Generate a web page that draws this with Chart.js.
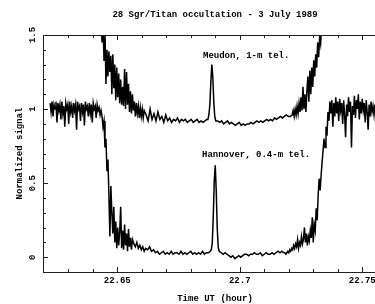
<!DOCTYPE html>
<html>
<head>
    <title>28 Sgr/Titan occultation</title>
    <script src="https://cdn.jsdelivr.net/npm/chart.js"></script>
    <style>
        body { margin: 0; background: #fff; }
    </style>
</head>
<body>
    <canvas id="myChart" width="375" height="304"></canvas>
    <script>
        // time in UT hours, signal normalised to the unocculted star
        var hannoverTime = [
            22.6226,22.6230,22.6234,22.6238,22.6242,22.6246,22.6250,22.6254,22.6258,22.6262,
            22.6266,22.6270,22.6274,22.6278,22.6282,22.6286,22.6290,22.6294,22.6298,22.6302,
            22.6306,22.6310,22.6314,22.6318,22.6322,22.6326,22.6330,22.6334,22.6338,22.6342,
            22.6346,22.6350,22.6354,22.6358,22.6362,22.6366,22.6370,22.6374,22.6378,22.6382,
            22.6386,22.6390,22.6394,22.6398,22.6402,22.6406,22.6410,22.6414,22.6418,22.6422,
            22.6426,22.6430,
            22.6434,22.6438,22.6442,22.6446,22.6450,22.6454,22.6458,22.6462,22.6466,22.6470,
            22.6474,22.6478,22.6482,22.6486,22.6490,22.6494,22.6498,22.6502,22.6506,22.6510,
            22.6514,22.6518,22.6522,22.6526,22.6530,22.6534,22.6538,22.6542,22.6546,22.6550,
            22.6554,22.6558,22.6562,
            22.6568,22.6574,22.6580,22.6586,22.6592,22.6598,22.6604,22.6610,22.6616,
            22.6624,22.6632,22.6640,22.6648,22.6656,22.6664,22.6672,22.6680,22.6688,22.6696,
            22.6704,22.6712,22.6720,22.6728,22.6736,22.6744,22.6752,22.6760,22.6768,22.6776,
            22.6784,22.6792,22.6800,22.6808,22.6816,22.6824,22.6832,22.6840,22.6848,22.6856,
            22.6864,22.6872,22.6880,
            22.6884,22.6888,22.6892,22.6896,22.6900,22.6904,22.6908,22.6912,22.6916,
            22.6924,22.6932,22.6940,22.6948,22.6956,22.6964,22.6972,22.6980,22.6988,22.6996,
            22.7004,22.7012,22.7020,22.7028,22.7036,22.7044,22.7052,22.7060,22.7068,22.7076,
            22.7084,22.7092,22.7100,22.7108,22.7116,22.7124,22.7132,22.7140,22.7148,22.7156,
            22.7164,22.7172,22.7180,
            22.7184,22.7188,22.7192,22.7196,22.7200,22.7204,22.7208,22.7212,22.7216,22.7220,
            22.7224,22.7228,22.7232,22.7236,22.7240,22.7244,22.7248,22.7252,22.7256,22.7260,
            22.7264,22.7268,22.7272,22.7276,22.7280,22.7284,22.7288,22.7292,22.7296,22.7300,
            22.7304,22.7308,22.7312,22.7316,22.7320,22.7324,22.7328,22.7332,22.7336,22.7340,
            22.7344,22.7348,22.7352,22.7356,22.7360,22.7364,22.7368,
            22.7372,22.7376,22.7380,22.7384,22.7388,22.7392,22.7396,22.7400,22.7404,22.7408,
            22.7412,22.7416,22.7420,22.7424,22.7428,22.7432,22.7436,22.7440,22.7444,22.7448,
            22.7452,22.7456,22.7460,22.7464,22.7468,22.7472,22.7476,22.7480,22.7484,22.7488,
            22.7492,22.7496,22.7500,22.7504,22.7508,22.7512,22.7516,22.7520,22.7524,22.7528,
            22.7532,22.7536,22.7540,22.7544,22.7548,22.7552
        ];
        var hannoverSignal = [
            1.04,0.98,1.05,0.95,1.03,1.00,1.05,0.91,1.04,0.99,
            1.03,0.93,1.05,0.97,1.02,0.88,1.04,1.00,1.03,0.90,
            1.05,0.98,1.02,0.94,1.04,0.99,1.03,0.86,1.05,1.00,
            1.02,0.92,1.04,0.98,1.03,0.89,1.05,1.00,1.02,0.95,
            1.04,0.97,1.03,0.91,1.04,1.00,1.02,0.94,1.03,0.99,
            1.01,0.96,
            0.99,0.95,0.88,0.92,0.74,0.80,0.58,0.66,0.42,0.14,
            0.48,0.30,0.16,0.34,0.10,0.24,0.06,0.20,0.08,0.17,
            0.34,0.06,0.18,0.05,0.22,0.08,0.16,0.04,0.19,0.07,
            0.13,0.05,0.12,
            0.09,0.07,0.10,0.06,0.08,0.05,0.07,0.04,0.06,
            0.05,0.07,0.04,0.05,0.03,0.04,0.02,0.03,0.04,0.02,
            0.03,0.02,0.04,0.02,0.03,0.03,0.02,0.04,0.02,0.03,
            0.02,0.03,0.04,0.02,0.03,0.02,0.03,0.02,0.04,0.02,
            0.03,0.03,0.04,
            0.05,0.10,0.28,0.52,0.62,0.45,0.20,0.07,0.04,
            0.03,0.02,0.03,0.02,0.01,0.00,0.01,-0.01,0.00,0.01,
            0.00,0.01,0.02,0.02,0.01,0.02,0.02,0.03,0.02,0.02,
            0.03,0.01,0.02,0.03,0.02,0.02,0.03,0.02,0.03,0.04,
            0.03,0.04,0.03,
            0.03,0.02,0.03,0.04,0.03,0.05,0.04,0.06,0.05,0.08,
            0.06,0.09,0.07,0.12,0.06,0.10,0.08,0.14,0.09,0.12,
            0.20,0.10,0.16,0.08,0.14,0.11,0.18,0.13,0.27,0.10,
            0.22,0.18,0.33,0.25,0.42,0.53,0.45,0.55,0.64,0.72,
            0.80,0.74,0.88,0.82,0.98,0.92,1.05,
            0.97,1.06,0.88,1.04,0.95,1.08,0.97,1.05,0.92,1.07,
            0.99,1.04,0.90,1.06,0.96,0.81,1.03,0.95,1.08,0.98,
            1.05,0.74,1.02,0.96,1.09,0.94,1.06,1.00,1.10,0.93,
            1.05,0.97,1.07,0.99,1.04,0.91,1.06,0.98,0.86,1.03,
            0.95,1.05,0.98,1.02,0.96,1.03
        ];

        var meudonTime = [
            22.6422,22.6426,
            22.6430,22.6434,22.6438,22.6442,22.6446,22.6450,22.6454,22.6458,22.6462,22.6466,
            22.6470,22.6474,22.6478,22.6482,22.6486,22.6490,22.6494,22.6498,22.6502,22.6506,
            22.6510,22.6514,22.6518,22.6522,22.6526,22.6530,22.6534,22.6538,22.6542,22.6546,
            22.6550,22.6554,22.6558,22.6562,22.6566,22.6570,22.6574,22.6578,22.6582,22.6586,
            22.6590,22.6594,22.6598,22.6602,22.6606,22.6610,
            22.6618,22.6626,22.6634,22.6642,22.6650,22.6658,22.6666,22.6674,22.6682,22.6690,
            22.6698,22.6706,22.6714,22.6722,22.6730,22.6738,22.6746,22.6754,22.6762,22.6770,
            22.6778,22.6786,22.6794,22.6802,22.6810,22.6818,22.6826,22.6834,22.6842,22.6850,
            22.6858,22.6866,
            22.6870,22.6874,22.6878,22.6882,22.6886,22.6890,22.6894,22.6898,22.6902,
            22.6910,22.6918,22.6926,22.6934,22.6942,22.6950,22.6958,22.6966,22.6974,22.6982,
            22.6990,22.6998,22.7006,22.7014,22.7022,22.7030,22.7038,22.7046,22.7054,22.7062,
            22.7070,22.7078,22.7086,22.7094,22.7102,22.7110,22.7118,22.7126,22.7134,22.7142,
            22.7150,22.7158,22.7166,22.7174,22.7182,22.7190,22.7198,22.7206,
            22.7214,22.7218,22.7222,22.7226,22.7230,22.7234,22.7238,22.7242,22.7246,22.7250,
            22.7254,22.7258,22.7262,22.7266,22.7270,22.7274,22.7278,22.7282,22.7286,22.7290,
            22.7294,22.7298,22.7302,22.7306,22.7310,22.7314,22.7318,22.7322,22.7326,22.7330,
            22.7334,22.7338,22.7342
        ];
        var meudonSignal = [
            1.95,1.80,
            1.70,1.62,1.45,1.58,1.33,1.52,1.17,1.40,1.22,1.39,
            1.25,1.36,1.10,1.37,1.14,1.30,1.06,1.28,1.08,1.24,
            1.04,1.20,1.03,1.15,1.02,1.27,1.00,1.25,1.03,1.17,
            0.98,1.12,0.97,1.10,0.99,1.05,0.95,1.04,0.97,1.02,
            0.94,1.01,0.95,1.00,0.94,0.99,
            0.96,0.92,1.00,0.93,0.97,0.92,0.98,0.93,0.95,0.91,
            0.96,0.92,0.94,0.91,0.93,0.92,0.94,0.91,0.93,0.92,
            0.93,0.91,0.92,0.93,0.91,0.92,0.93,0.91,0.92,0.91,
            0.92,0.93,
            0.93,0.96,1.03,1.18,1.30,1.22,1.05,0.95,0.92,
            0.92,0.91,0.92,0.90,0.91,0.92,0.90,0.91,0.90,0.89,
            0.90,0.91,0.89,0.90,0.89,0.90,0.90,0.91,0.90,0.91,
            0.92,0.91,0.92,0.91,0.92,0.93,0.92,0.93,0.92,0.94,
            0.93,0.94,0.95,0.94,0.95,0.96,0.95,0.95,
            0.96,0.99,0.95,1.00,0.96,1.02,0.97,1.04,0.98,1.08,
            0.99,1.15,1.00,1.10,0.98,1.12,1.22,1.05,1.26,1.10,
            1.28,1.15,1.33,1.22,1.37,1.28,1.45,1.35,1.48,1.44,
            1.56,1.62,1.70
        ];

        var xTickLabels = [22.65, 22.7, 22.75];
        var xMinorTicks = [22.63, 22.64, 22.66, 22.67, 22.68, 22.69, 22.71, 22.72, 22.73, 22.74];
        var yTickLabels = [0, 0.5, 1, 1.5];
        var yMinorTicks = [0.1, 0.2, 0.3, 0.4, 0.6, 0.7, 0.8, 0.9, 1.1, 1.2, 1.3, 1.4];

        var curveNames = ['Meudon, 1-m tel.', 'Hannover, 0.4-m tel.'];
        var namePosT = [22.6850, 22.6846];
        var namePosY = [1.36, 0.69];

        var chartTitle = '28 Sgr/Titan occultation - 3 July 1989';
        var xTitle = 'Time UT (hour)';
        var yTitle = 'Normalized signal';

        var FONT = 'bold 9px "Liberation Mono", "DejaVu Sans Mono", monospace';

        function pairs(ts, vs) {
            return ts.map(function(t, i) { return { x: t, y: vs[i] }; });
        }

        // inward ticks, top frame line and all the free text
        var plotDecor = {
            id: 'plotDecor',
            afterDraw: function(chart) {
                var ctx = chart.ctx, a = chart.chartArea;
                var x = chart.scales.x, y = chart.scales.y;
                ctx.save();
                ctx.strokeStyle = '#222';
                ctx.lineWidth = 1;
                ctx.beginPath();
                ctx.moveTo(a.left, a.top + 0.5);
                ctx.lineTo(a.right, a.top + 0.5);

                function xTick(v, len) {
                    var px = Math.round(x.getPixelForValue(v)) + 0.5;
                    ctx.moveTo(px, a.bottom); ctx.lineTo(px, a.bottom - len);
                    ctx.moveTo(px, a.top); ctx.lineTo(px, a.top + len);
                }
                function yTick(v, len) {
                    var py = Math.round(y.getPixelForValue(v)) + 0.5;
                    ctx.moveTo(a.left, py); ctx.lineTo(a.left + len, py);
                }
                xTickLabels.forEach(function(v) { xTick(v, 5); });
                xMinorTicks.forEach(function(v) { xTick(v, 3); });
                yTickLabels.forEach(function(v) { yTick(v, 5); });
                yMinorTicks.forEach(function(v) { yTick(v, 3); });
                ctx.stroke();

                ctx.fillStyle = '#000';
                ctx.font = FONT;
                ctx.textBaseline = 'middle';
                ctx.textAlign = 'center';
                ctx.fillText(chartTitle, 215, 15);
                ctx.fillText(xTitle, 215, 299);

                yTickLabels.forEach(function(v) {
                    ctx.save();
                    ctx.translate(33, y.getPixelForValue(v));
                    ctx.rotate(-Math.PI / 2);
                    ctx.fillText(String(v), 0, 0);
                    ctx.restore();
                });
                ctx.save();
                ctx.translate(20, (a.top + a.bottom) / 2);
                ctx.rotate(-Math.PI / 2);
                ctx.fillText(yTitle, 0, 0);
                ctx.restore();

                ctx.textAlign = 'left';
                curveNames.forEach(function(name, i) {
                    ctx.fillText(name, x.getPixelForValue(namePosT[i]), y.getPixelForValue(namePosY[i]));
                });
                ctx.restore();
            }
        };

        var ctx = document.getElementById('myChart').getContext('2d');
        var myChart = new Chart(ctx, {
            type: 'line',
            data: {
                datasets: [
                    {
                        label: curveNames[0],
                        data: pairs(meudonTime, meudonSignal),
                        borderColor: '#000',
                        borderWidth: 1.5,
                        pointRadius: 0,
                        tension: 0,
                        clip: 0
                    },
                    {
                        label: curveNames[1],
                        data: pairs(hannoverTime, hannoverSignal),
                        borderColor: '#000',
                        borderWidth: 1.5,
                        pointRadius: 0,
                        tension: 0,
                        clip: 0
                    }
                ]
            },
            options: {
                responsive: false,
                animation: false,
                layout: { padding: { top: 35, left: 0, right: 0, bottom: 0 } },
                plugins: {
                    legend: { display: false },
                    tooltip: { enabled: false }
                },
                scales: {
                    x: {
                        type: 'linear',
                        min: 22.6197,
                        max: 22.7552,
                        grid: { display: false, drawTicks: false },
                        border: { display: true, color: '#222', width: 1 },
                        afterBuildTicks: function(s) {
                            s.ticks = xTickLabels.map(function(v) { return { value: v }; });
                        },
                        afterFit: function(s) {
                            s.height = 32;
                            s.paddingLeft = 0;
                            s.paddingRight = 0;
                        },
                        ticks: {
                            color: '#000',
                            padding: 3,
                            maxRotation: 0,
                            font: { family: '"Liberation Mono", "DejaVu Sans Mono", monospace', size: 9, weight: 'bold' },
                            callback: function(v) { return String(v); }
                        }
                    },
                    y: {
                        min: -0.1,
                        max: 1.5,
                        grid: { display: false, drawTicks: false },
                        border: { display: true, color: '#222', width: 1 },
                        ticks: { display: false },
                        afterFit: function(s) {
                            s.width = 43;
                        }
                    }
                }
            },
            plugins: [plotDecor]
        });
    </script>
</body>
</html>
